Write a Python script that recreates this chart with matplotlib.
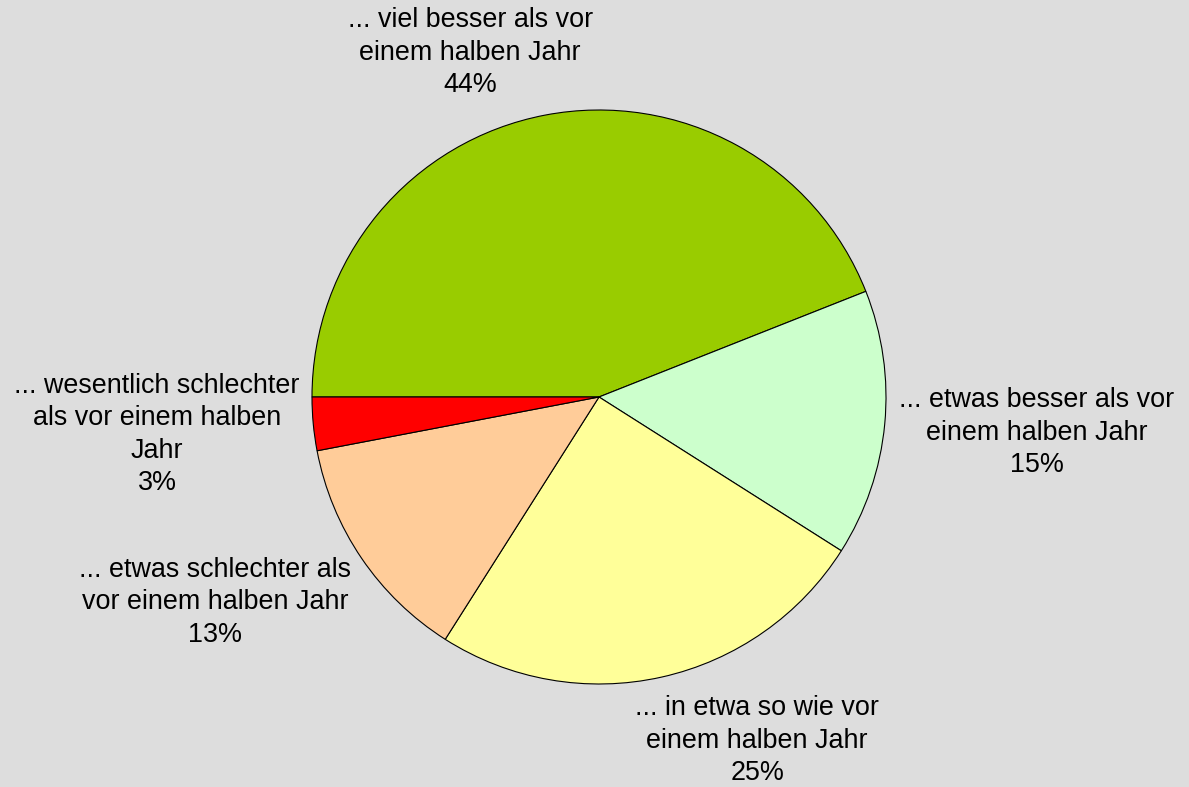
import matplotlib.pyplot as plt

labels = ['... viel besser als vor\neinem halben Jahr\n44%',
          '... etwas besser als vor\neinem halben Jahr\n15%',
          '... in etwa so wie vor\neinem halben Jahr\n25%',
          '... etwas schlechter als\nvor einem halben Jahr\n13%',
          '... wesentlich schlechter\nals vor einem halben\nJahr\n3%']
values = [44, 15, 25, 13, 3]
colors = ['#99CC00', '#CCFFCC', '#FFFF99', '#FFCC99', '#FF0000']

# label centres in data units (pie radius = 1)
label_pos = [(-0.449, 1.200), (1.526, -0.124), (0.551, -1.198),
             (-1.338, -0.716), (-1.54, -0.131)]

plt.rcParams['font.family'] = ['Liberation Sans', 'DejaVu Sans']

fig = plt.figure(figsize=(11.89, 7.87), dpi=100)
fig.patch.set_facecolor('#DDDDDD')
ax = fig.add_axes([0, 0, 1, 1])
ax.set_facecolor('#DDDDDD')

ax.pie(values, colors=colors, startangle=180, counterclock=False,
       wedgeprops={'edgecolor': 'black', 'linewidth': 0.8})

for (x, y), lab in zip(label_pos, labels):
    ax.text(x, y, lab, ha='center', va='center', fontsize=19.4,
            linespacing=1.33, color='black')

r = 287.0
ax.set_xlim(-599 / r, (1189 - 599) / r)
ax.set_ylim(-(787 - 397) / r, 397 / r)
ax.set_aspect('equal')
ax.axis('off')

plt.savefig('out.png', dpi=100, facecolor=fig.get_facecolor())
